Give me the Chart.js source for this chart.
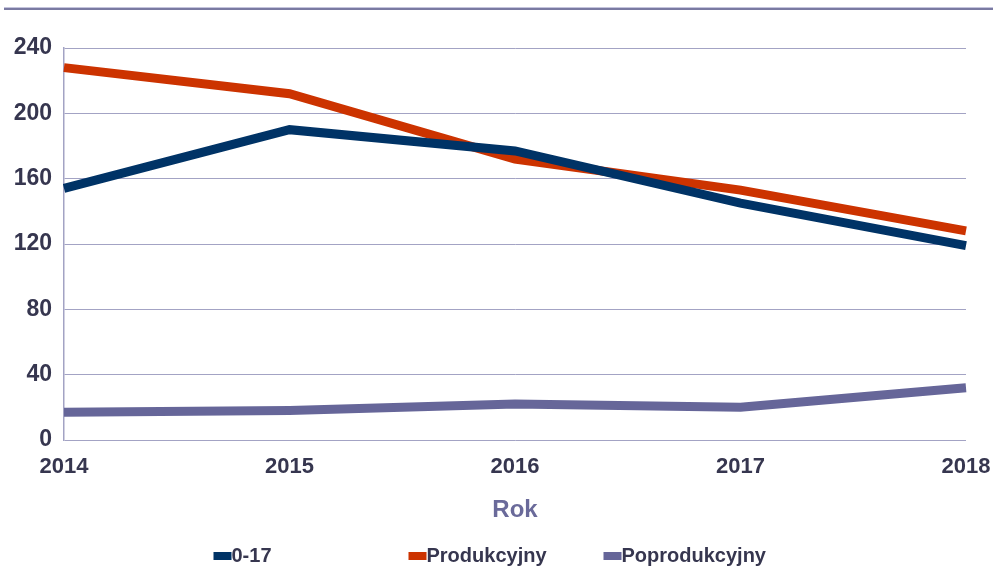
<!DOCTYPE html>
<html>
<head>
<meta charset="utf-8">
<script src="https://cdn.jsdelivr.net/npm/chart.js@4/dist/chart.umd.min.js"></script>
<style>
    html, body { margin: 0; padding: 0; background: #fff; }
    #wrap { position: relative; width: 993px; height: 568px; }
    #topRule { position: absolute; left: 4px; right: 0; top: 7px; height: 1px; background: #c4c4dc; border-bottom: 2px solid #7a7aa2; }
</style>
</head>
<body>
<div id="wrap">
    <div id="topRule"></div>
    <canvas id="chart" width="993" height="568"></canvas>
</div>
<script>
// Data
const years = ['2014', '2015', '2016', '2017', '2018'];
const kids = [154, 190, 177, 145, 119];
const working = [228, 212, 172, 153, 128];
const retired = [17, 18, 22, 20, 32];
const seriesNames = ['0-17', 'Produkcyjny', 'Poprodukcyjny'];
const yTicks = [0, 40, 80, 120, 160, 200, 240];

const colors = ['#003366', '#cc3300', '#666699'];
const fontFamily = "'Liberation Sans', Arial, sans-serif";
const textColor = '#36364f';
const gridColor = '#a3a3c4';

// Legend in fixed-width columns, like the original sheet
const columnLegend = {
    id: 'columnLegend',
    afterDraw(chart) {
        const ctx = chart.ctx;
        const colW = 195;
        const x0 = chart.width / 2 - 283;
        const y = chart.height - 12;
        ctx.save();
        ctx.font = 'bold 20px ' + fontFamily;
        ctx.textBaseline = 'middle';
        ctx.textAlign = 'left';
        chart.data.datasets.forEach((ds, i) => {
            const x = x0 + i * colW;
            ctx.fillStyle = ds.borderColor;
            ctx.fillRect(x, y - 4, 18, 8);
            ctx.fillStyle = textColor;
            ctx.fillText(ds.label, x + 18, y);
        });
        ctx.restore();
    }
};

const ctx = document.getElementById('chart').getContext('2d');
new Chart(ctx, {
    type: 'line',
    data: {
        labels: years,
        datasets: [kids, working, retired].map((values, i) => ({
            label: seriesNames[i],
            data: values,
            borderColor: colors[i],
            backgroundColor: colors[i],
            borderWidth: 9,
            pointRadius: 0,
            tension: 0,
            fill: false
        }))
    },
    options: {
        responsive: false,
        animation: false,
        layout: { padding: { top: 48, right: 27, bottom: 40, left: 0 } },
        plugins: {
            legend: { display: false },
            tooltip: { enabled: false }
        },
        scales: {
            x: {
                offset: false,
                afterFit(scale) {
                    scale.height = 88;
                    scale.paddingLeft = 0;
                    scale.paddingRight = 0;
                },
                grid: { display: false, drawTicks: false },
                border: { display: false },
                ticks: {
                    padding: 14,
                    maxRotation: 0,
                    color: textColor,
                    font: { family: fontFamily, size: 22, weight: 'bold' }
                },
                title: {
                    display: true,
                    text: 'Rok',
                    color: '#6a6a9a',
                    padding: { top: 0, bottom: 3 },
                    font: { family: fontFamily, size: 24, weight: 'bold' }
                }
            },
            y: {
                min: 0,
                max: 240,
                afterFit(scale) { scale.width = 64; },
                afterBuildTicks(scale) { scale.ticks = yTicks.map(v => ({ value: v })); },
                grid: { color: gridColor, lineWidth: 1, drawTicks: false },
                border: { display: true, color: gridColor, width: 1.5 },
                ticks: {
                    padding: 12,
                    color: textColor,
                    font: { family: fontFamily, size: 23, weight: 'bold' }
                }
            }
        }
    },
    plugins: [columnLegend]
});
</script>
</body>
</html>
